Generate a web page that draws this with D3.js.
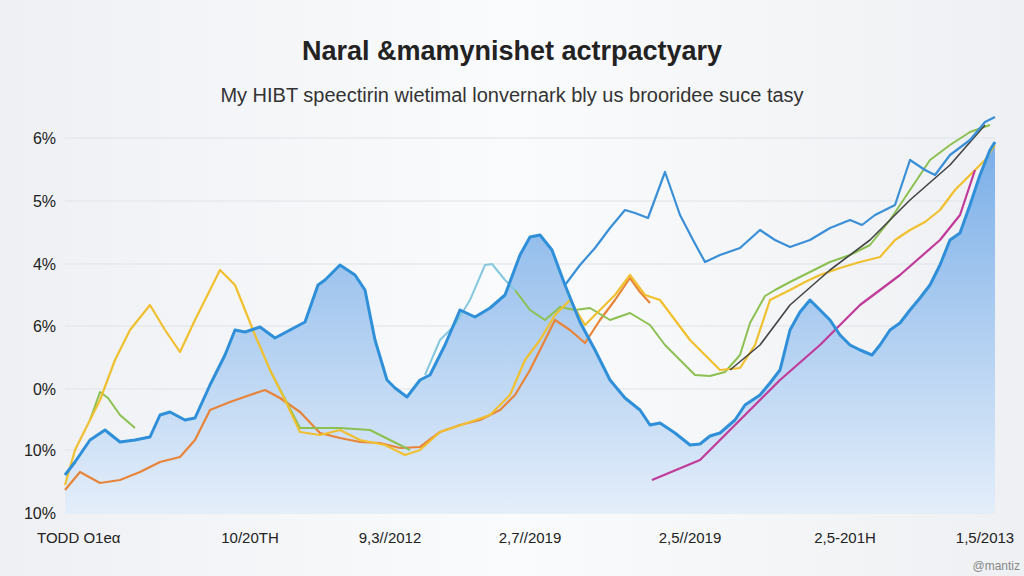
<!DOCTYPE html>
<html><head><meta charset="utf-8">
<script src="https://cdn.jsdelivr.net/npm/d3@7/dist/d3.min.js"></script>
<style>body{margin:0;background:#fff;font-family:"Liberation Sans",Arial,sans-serif}</style>
</head><body><svg id="c" width="1024" height="576"></svg>
<script>
const yTickVals=[0,63,124,187,249,312,375];
const yTickLabels=["10%","10%","0%","6%","4%","5%","6%"];
const xTickVals=[0,185,325,465,625,780,920];
const xTickLabels=["TODD O1e\u03b1","10/20TH","9,3//2012","2,7//2019","2,5//2019","2,5-201H","1,5/2013"];
const blueArea=[[0,38],[10,51],[25,73],[40,83],[55,71],[70,73],[85,76],[95,98],[105,101],[120,93],[130,95],[145,128],[160,158],[170,183],[180,181],[195,186],[210,175],[225,183],[240,191],[253,228],[260,233],[275,248],[290,238],[300,223],[310,173],[322,133],[330,125],[342,116],[355,133],[365,138],[380,168],[395,203],[410,196],[425,205],[440,218],[455,258],[465,276],[475,278],[487,263],[500,228],[515,191],[530,163],[545,133],[560,115],[575,103],[585,88],[595,90],[610,80],[625,68],[635,69],[645,77],[655,80],[670,93],[680,108],[695,118],[705,130],[715,143],[725,183],[735,201],[745,213],[755,203],[765,193],[775,178],[785,168],[795,163],[807,158],[815,168],[825,183],[835,190],[845,203],[855,215],[865,228],[875,248],[885,273],[895,280],[905,308],[915,338],[925,363],[930,371]];
const blueUpper=[[500,228],[515,248],[530,265],[545,285],[560,303],[570,300],[583,295],[600,341],[615,298],[628,273],[640,251],[655,258],[675,265],[695,283],[710,273],[725,266],[745,273],[765,285],[785,293],[797,288],[810,298],[830,308],[845,353],[860,343],[870,338],[885,358],[905,373],[920,391],[930,396]];
const cyan=[[360,138],[375,173],[390,188],[405,213],[420,248],[427,249],[440,233],[450,223]];
const yellow=[[0,28],[10,63],[25,93],[35,113],[50,153],[65,183],[85,208],[100,183],[115,161],[130,193],[140,213],[155,243],[170,228],[180,203],[190,178],[205,143],[220,113],[235,81],[255,78],[275,83],[295,73],[320,68],[340,58],[355,63],[375,81],[405,91],[425,98],[445,118],[460,153],[475,173],[490,198],[505,213],[520,188],[535,203],[550,218],[565,238],[580,218],[595,213],[610,193],[625,173],[640,158],[655,143],[675,145],[690,168],[705,213],[725,223],[740,231],[755,238],[775,245],[795,251],[815,256],[830,273],[845,283],[860,291],[875,303],[890,323],[905,338],[920,353],[930,368]];
const green1=[[25,93],[35,121],[43,115],[55,98],[70,85]];
const green2=[[205,143],[235,85],[275,85],[305,83],[325,73],[345,63]];
const green3=[[450,223],[465,203],[480,193],[495,206],[510,203],[525,205],[545,193],[565,200],[585,188],[600,168],[615,153],[630,138],[645,137],[660,141],[675,158],[685,190],[700,217],[710,223],[725,231],[745,241],[765,251],[785,258],[805,268],[825,293],[845,323],[865,353],[885,368],[905,381],[925,388]];
const orange=[[0,23],[15,41],[35,30],[55,33],[75,41],[95,51],[115,56],[130,73],[145,103],[165,111],[185,118],[200,123],[215,115],[235,101],[255,80],[275,75],[295,71],[315,70],[335,65],[355,66],[375,81],[395,88],[415,93],[435,103],[450,118],[465,143],[480,173],[490,193],[505,183],[520,170],[535,193],[550,213],[565,235],[575,221],[585,210]];
const dark=[[665,143],[695,168],[725,208],[765,243],[805,273],[845,313],[885,348],[920,388]];
const magenta=[[587,33],[635,53],[675,93],[715,133],[755,168],[795,208],[835,238],[875,273],[895,298],[910,343]];

const svg=d3.select("#c");
const defs=svg.append("defs");
const bg=defs.append("linearGradient").attr("id","bg").attr("x1",0).attr("x2",1).attr("y1",0).attr("y2",0);
bg.append("stop").attr("offset","0").attr("stop-color","#eef0f4");
bg.append("stop").attr("offset","0.5").attr("stop-color","#fafbfc");
bg.append("stop").attr("offset","1").attr("stop-color","#eef0f3");
svg.append("rect").attr("width",1024).attr("height",576).attr("fill","url(#bg)");
const ag=defs.append("linearGradient").attr("id","ag").attr("x1",0).attr("x2",0).attr("y1",0).attr("y2",1);
ag.append("stop").attr("offset","0").attr("stop-color","#7aaee8");
ag.append("stop").attr("offset","1").attr("stop-color","#e4eefa");

const x=d3.scaleLinear().domain([0,930]).range([65,995]);
const y=d3.scaleLinear().domain([0,400]).range([513,113]);

svg.append("text").attr("x",512).attr("y",60).attr("text-anchor","middle").attr("font-size",27).attr("font-weight","bold").attr("fill","#222").text("Naral &mamynishet actrpactyary");
svg.append("text").attr("x",512).attr("y",102).attr("text-anchor","middle").attr("font-size",20).attr("fill","#333").text("My HIBT speectirin wietimal lonvernark bly us broorideе suce tasy");

const g=svg.append("g");
g.selectAll("line.grid").data(yTickVals).join("line").attr("x1",65).attr("x2",995).attr("y1",d=>y(d)).attr("y2",d=>y(d)).attr("stroke","#dfe3e8").attr("stroke-width",1);
g.selectAll("text.yl").data(yTickVals).join("text").attr("x",56).attr("y",d=>y(d)+6).attr("text-anchor","end").attr("font-size",16).attr("fill","#222").text((d,i)=>yTickLabels[i]);
g.selectAll("text.xl").data(xTickVals).join("text").attr("x",(d,i)=>i==0?x(d)-28:x(d)).attr("y",543).attr("text-anchor",(d,i)=>i==0?"start":"middle").attr("font-size",15).attr("fill","#222").text((d,i)=>xTickLabels[i]);

const line=d3.line().x(d=>x(d[0])).y(d=>y(d[1])).curve(d3.curveLinear);
const area=d3.area().x(d=>x(d[0])).y0(y(0)).y1(d=>y(d[1]));
g.append("path").attr("d",area(blueArea)).attr("fill","url(#ag)");
const draw=(data,col,w)=>g.append("path").attr("d",line(data)).attr("fill","none").attr("stroke",col).attr("stroke-width",w).attr("stroke-linejoin","round");
draw(orange,"#e8843a",2.2);
draw(green1,"#8cc050",2);draw(green2,"#8cc050",2);draw(green3,"#8cc050",2);
draw(yellow,"#f0c030",2.2);
draw(cyan,"#86c8e0",2);
draw(dark,"#444",1.6);
draw(magenta,"#c03a9a",2.2);
draw(blueUpper,"#3a8fd6",2.2);
draw(blueArea,"#2f8fd8",3);
svg.append("text").attr("x",1020).attr("y",570).attr("text-anchor","end").attr("font-size",12).attr("fill","#888").text("@mantiz");
</script></body></html>
